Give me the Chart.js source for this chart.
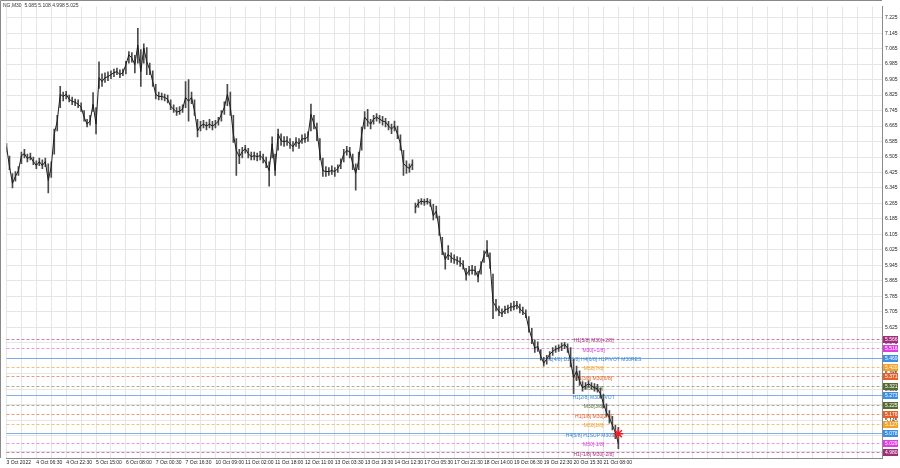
<!DOCTYPE html>
<html>
<head>
<meta charset="utf-8">
<title>NG,M30</title>
<script src="https://cdn.jsdelivr.net/npm/chart.js@4/dist/chart.umd.min.js"></script>
<style>
  html, body { margin: 0; padding: 0; background: #fff; }
  #c { display: block; }
</style>
</head>
<body>
<canvas id="c" width="900" height="468"></canvas>
<script>
/* ---------- dados (amostra a cada ~3 barras M30) ---------- */
const highs = [
  6.575, 6.510, 6.420, 6.430, 6.455, 6.530, 6.545, 6.520, 6.525, 6.505,
  6.485, 6.500, 6.490, 6.500, 6.470, 6.480, 6.650, 6.720, 6.870, 6.840,
  6.845, 6.825, 6.815, 6.805, 6.800, 6.785, 6.745, 6.700, 6.720, 6.838,
  6.760, 6.997, 6.935, 6.940, 6.945, 6.950, 6.960, 6.965, 6.955, 6.960,
  7.000, 7.050, 7.045, 7.030, 7.170, 7.060, 7.090, 7.070, 6.990, 6.950,
  6.880, 6.840, 6.835, 6.830, 6.825, 6.800, 6.775, 6.760, 6.765, 6.775,
  6.895, 6.905, 6.840, 6.800, 6.700, 6.690, 6.695, 6.685, 6.700, 6.690,
  6.695, 6.710, 6.745, 6.790, 6.880, 6.840, 6.720, 6.600, 6.545, 6.555,
  6.565, 6.550, 6.530, 6.530, 6.525, 6.535, 6.520, 6.505, 6.480, 6.609,
  6.520, 6.650, 6.625, 6.610, 6.610, 6.600, 6.585, 6.605, 6.600, 6.620,
  6.625, 6.635, 6.778, 6.720, 6.680, 6.600, 6.500, 6.455, 6.450, 6.460,
  6.450, 6.465, 6.495, 6.545, 6.560, 6.555, 6.520, 6.470, 6.530, 6.660,
  6.740, 6.752, 6.700, 6.720, 6.730, 6.720, 6.715, 6.705, 6.690, 6.675,
  6.691, 6.665, 6.620, 6.540, 6.485, 6.470, 6.490, 6.267, 6.285, 6.290,
  6.288, 6.292, 6.285, 6.260, 6.252, 6.200, 6.090, 6.010, 6.048, 6.010,
  6.000, 5.990, 5.985, 5.970, 5.930, 5.940, 5.945, 5.940, 5.915, 5.965,
  6.020, 6.073, 6.010, 5.900, 5.770, 5.735, 5.720, 5.735, 5.740, 5.750,
  5.760, 5.760, 5.745, 5.730, 5.715, 5.680, 5.620, 5.560, 5.550, 5.510,
  5.470, 5.480, 5.500, 5.520, 5.530, 5.535, 5.545, 5.548, 5.540, 5.520,
  5.460, 5.425, 5.400, 5.345, 5.340, 5.350, 5.340, 5.335, 5.330, 5.310,
  5.280, 5.230, 5.195, 5.165, 5.120, 5.108
];
const lows = [
  6.530, 6.440, 6.345, 6.380, 6.410, 6.470, 6.500, 6.480, 6.490, 6.465,
  6.445, 6.460, 6.445, 6.455, 6.320, 6.400, 6.520, 6.640, 6.760, 6.795,
  6.805, 6.790, 6.775, 6.770, 6.760, 6.740, 6.690, 6.660, 6.670, 6.740,
  6.624, 6.860, 6.870, 6.890, 6.900, 6.910, 6.920, 6.930, 6.915, 6.925,
  6.935, 6.990, 6.995, 6.940, 6.990, 6.870, 6.990, 6.931, 6.930, 6.870,
  6.805, 6.800, 6.800, 6.795, 6.785, 6.750, 6.735, 6.720, 6.725, 6.735,
  6.760, 6.690, 6.780, 6.720, 6.609, 6.640, 6.655, 6.645, 6.655, 6.645,
  6.655, 6.670, 6.690, 6.725, 6.770, 6.720, 6.580, 6.410, 6.470, 6.500,
  6.525, 6.500, 6.490, 6.490, 6.485, 6.490, 6.475, 6.450, 6.354, 6.500,
  6.410, 6.540, 6.565, 6.560, 6.565, 6.550, 6.535, 6.560, 6.550, 6.575,
  6.580, 6.585, 6.640, 6.650, 6.590, 6.490, 6.405, 6.405, 6.410, 6.415,
  6.405, 6.425, 6.445, 6.480, 6.515, 6.500, 6.440, 6.334, 6.440, 6.540,
  6.650, 6.665, 6.650, 6.675, 6.690, 6.680, 6.670, 6.660, 6.645, 6.625,
  6.640, 6.600, 6.540, 6.410, 6.420, 6.425, 6.440, 6.216, 6.245, 6.260,
  6.255, 6.262, 6.250, 6.180, 6.190, 6.100, 6.000, 5.925, 5.975, 5.960,
  5.955, 5.950, 5.940, 5.925, 5.869, 5.895, 5.900, 5.895, 5.860, 5.900,
  5.960, 5.990, 5.930, 5.670, 5.710, 5.685, 5.680, 5.695, 5.700, 5.710,
  5.715, 5.720, 5.700, 5.690, 5.675, 5.600, 5.540, 5.495, 5.500, 5.455,
  5.425, 5.435, 5.460, 5.480, 5.495, 5.500, 5.505, 5.515, 5.495, 5.420,
  5.282, 5.350, 5.325, 5.295, 5.305, 5.315, 5.305, 5.295, 5.290, 5.260,
  5.210, 5.165, 5.130, 5.095, 5.050, 4.998
];
const closes = [
  6.558, 6.456, 6.369, 6.405, 6.435, 6.512, 6.522, 6.497, 6.507, 6.481,
  6.461, 6.481, 6.461, 6.481, 6.384, 6.456, 6.624, 6.691, 6.829, 6.818,
  6.829, 6.803, 6.793, 6.788, 6.778, 6.762, 6.711, 6.675, 6.691, 6.778,
  6.675, 6.915, 6.895, 6.915, 6.920, 6.931, 6.941, 6.946, 6.931, 6.941,
  6.982, 7.033, 7.017, 6.982, 7.084, 6.946, 7.068, 6.997, 6.956, 6.895,
  6.829, 6.818, 6.818, 6.813, 6.803, 6.767, 6.752, 6.737, 6.742, 6.752,
  6.813, 6.793, 6.813, 6.742, 6.640, 6.665, 6.675, 6.665, 6.675, 6.665,
  6.675, 6.691, 6.726, 6.762, 6.829, 6.762, 6.624, 6.538, 6.507, 6.533,
  6.548, 6.522, 6.507, 6.512, 6.507, 6.512, 6.497, 6.471, 6.435, 6.573,
  6.435, 6.624, 6.589, 6.584, 6.589, 6.573, 6.558, 6.584, 6.573, 6.599,
  6.599, 6.609, 6.726, 6.675, 6.640, 6.522, 6.435, 6.430, 6.430, 6.435,
  6.430, 6.446, 6.471, 6.522, 6.538, 6.533, 6.471, 6.420, 6.487, 6.624,
  6.711, 6.691, 6.675, 6.701, 6.711, 6.701, 6.691, 6.686, 6.665, 6.650,
  6.665, 6.624, 6.573, 6.471, 6.456, 6.446, 6.471, 6.242, 6.267, 6.277,
  6.272, 6.277, 6.267, 6.201, 6.226, 6.129, 6.027, 5.976, 6.002, 5.986,
  5.976, 5.971, 5.961, 5.945, 5.894, 5.920, 5.920, 5.920, 5.884, 5.945,
  5.997, 6.027, 5.961, 5.757, 5.731, 5.706, 5.695, 5.716, 5.721, 5.731,
  5.731, 5.741, 5.721, 5.706, 5.690, 5.619, 5.568, 5.517, 5.527, 5.476,
  5.440, 5.461, 5.486, 5.501, 5.512, 5.517, 5.527, 5.537, 5.517, 5.450,
  5.364, 5.399, 5.348, 5.313, 5.323, 5.333, 5.323, 5.313, 5.307, 5.282,
  5.231, 5.185, 5.159, 5.119, 5.083, 5.025
];
// gap de preço depois desta amostra (sem ligação)
const gapAfter = [136];

const timeLabels = [
  "3 Oct 2022", "4 Oct 06:30", "4 Oct 22:30", "5 Oct 15:00", "6 Oct 08:00",
  "7 Oct 00:30", "7 Oct 16:30", "10 Oct 09:00", "11 Oct 02:00", "11 Oct 18:00",
  "12 Oct 11:00", "13 Oct 03:30", "13 Oct 19:30", "14 Oct 12:30", "17 Oct 05:30",
  "17 Oct 21:30", "18 Oct 14:00", "19 Oct 06:30", "19 Oct 22:30", "20 Oct 15:30",
  "21 Oct 08:00"
];
const priceTicks = [
  4.985, 5.065, 5.145, 5.225, 5.305, 5.385, 5.465, 5.545, 5.625, 5.705,
  5.785, 5.865, 5.945, 6.025, 6.105, 6.185, 6.265, 6.345, 6.425, 6.505,
  6.585, 6.665, 6.745, 6.825, 6.905, 6.985, 7.065, 7.145, 7.225
];

// níveis Murrey
const levelPrices = [5.566, 5.516, 5.469, 5.420, 5.371, 5.321, 5.273, 5.225, 5.176, 5.127, 5.078, 5.029, 4.980];
const levelNames = [
  "H1[5/8] M30[+2/8]", "M30[+1/8]", "H1[4/8] D1[3/8] H4[6/8] H1PIVOT M30RES",
  "M30[7/8]", "H1[3/8] M30[6/8]", "M30[5/8]", "H1[2/8] M30PIVOT", "M30[3/8]",
  "H1[1/8] M30[2/8]", "M30[1/8]", "H4[5/8] H1SUP M30SUP", "M30[-1/8]", "H1[-1/8] M30[-2/8]"
];
const levelKind = ["p2", "p1", "pv", "o", "r", "g", "pv", "g", "r", "o", "pv", "p1", "p2"];

const header = "NG,M30  5.085 5.108 4.998 5.025";
const markerPrice = 5.075;

/* ---------- estilo ---------- */
const KIND = {
  p2: { box: "#a12c7b", line: "rgba(176,60,140,0.65)", text: "#a8307f", dash: [3, 2] },
  p1: { box: "#dd3ee0", line: "rgba(220,80,220,0.6)",  text: "#d23cd4", dash: [3, 2] },
  pv: { box: "#3d8fe3", line: "rgba(90,150,225,0.75)", text: "#3a86d6", dash: [] },
  o:  { box: "#f2a12c", line: "rgba(240,160,50,0.65)", text: "#ee9a22", dash: [3, 2] },
  r:  { box: "#e3612b", line: "rgba(225,100,50,0.65)", text: "#dd5c26", dash: [3, 2] },
  g:  { box: "#566b34", line: "rgba(110,125,90,0.6)",  text: "#5a6c3a", dash: [3, 2] }
};
const FONT = '"Liberation Sans", Arial, sans-serif';
const GRID = "#e6e6e6";

const idx = closes.map((_, i) => i);
const X_MAX = 880 / 3;       // ~3 px por amostra
const TEXT_AT = 196.7;       // coluna onde o indicador escreve os nomes

/* ---------- plugin dos níveis / moldura ---------- */
const levelsPlugin = {
  id: "levels",
  beforeDatasetsDraw(chart) {
    const { ctx, chartArea: a, scales: { x, y } } = chart;
    ctx.save();
    ctx.lineWidth = 1;
    levelPrices.forEach((p, i) => {
      const k = KIND[levelKind[i]];
      const py = Math.round(y.getPixelForValue(p)) + 0.5;
      ctx.strokeStyle = k.line;
      ctx.setLineDash(k.dash);
      ctx.beginPath();
      ctx.moveTo(a.left, py);
      ctx.lineTo(a.right, py);
      ctx.stroke();
    });
    ctx.setLineDash([]);
    ctx.font = "5px " + FONT;
    ctx.textAlign = "center";
    ctx.textBaseline = "middle";
    const cx = x.getPixelForValue(TEXT_AT);
    levelPrices.forEach((p, i) => {
      ctx.fillStyle = KIND[levelKind[i]].text;
      ctx.fillText(levelNames[i], cx, y.getPixelForValue(p) + 2);
    });
    ctx.restore();
  },
  afterDraw(chart) {
    const { ctx, chartArea: a, scales: { y } } = chart;
    ctx.save();
    // caixas de preço no eixo
    ctx.font = "5px " + FONT;
    ctx.textAlign = "left";
    ctx.textBaseline = "middle";
    levelPrices.forEach((p, i) => {
      const py = Math.round(y.getPixelForValue(p));
      ctx.fillStyle = KIND[levelKind[i]].box;
      ctx.fillRect(a.right + 1, py - 3, 15, 7);
      ctx.fillStyle = "#fff";
      ctx.fillText(p.toFixed(3), a.right + 3, py + 0.5);
    });
    // moldura
    ctx.strokeStyle = "#8a8a8a";
    ctx.beginPath();
    ctx.moveTo(0.5, a.bottom);
    ctx.lineTo(0.5, 0.5);
    ctx.lineTo(a.right, 0.5);
    ctx.stroke();
    // cabeçalho
    ctx.fillStyle = "#333";
    ctx.textBaseline = "middle";
    ctx.fillText(header, 3, 6);
    ctx.restore();
  }
};

/* ---------- gráfico ---------- */
new Chart(document.getElementById("c"), {
  type: "line",
  data: {
    datasets: [
      {
        type: "bar",
        data: idx.map(i => ({ x: i, y: [lows[i], highs[i]] })),
        backgroundColor: "#4a4a4a",
        barThickness: 1,
        grouped: false,
        order: 2
      },
      {
        type: "line",
        data: idx.map(i => ({ x: i, y: closes[i] })),
        borderColor: "#1e1e1e",
        borderWidth: 1,
        pointRadius: 0,
        tension: 0,
        segment: {
          borderColor: c => (gapAfter.includes(c.p0DataIndex) ? "rgba(0,0,0,0)" : undefined)
        },
        order: 1
      },
      {
        type: "line",
        data: [{ x: idx[idx.length - 1], y: markerPrice }],
        showLine: false,
        pointStyle: "star",
        pointRadius: 5,
        borderColor: "#e8202a",
        borderWidth: 1.5,
        order: 0
      }
    ]
  },
  options: {
    responsive: false,
    animation: false,
    devicePixelRatio: 1,
    layout: { padding: { top: 1, left: 2, right: 0, bottom: 0 } },
    plugins: { legend: { display: false }, tooltip: { enabled: false } },
    scales: {
      x: {
        type: "linear",
        min: 0,
        max: X_MAX,
        offset: false,
        grid: { color: GRID, offset: false, drawTicks: false },
        border: { display: true, color: "#8a8a8a" },
        ticks: {
          stepSize: 5,
          includeBounds: false,
          autoSkip: false,
          maxRotation: 0,
          align: "start",
          padding: 2,
          color: "#222",
          font: { family: FONT, size: 5 },
          callback: v => (v % 10 === 0 ? (timeLabels[v / 10] || "") : "")
        },
        afterFit: s => { s.height = 10; }
      },
      y: {
        type: "linear",
        position: "right",
        min: 4.9499,
        max: 7.2827,
        grid: { color: GRID, drawTicks: false },
        border: { display: true, color: "#8a8a8a" },
        afterBuildTicks: s => { s.ticks = priceTicks.map(v => ({ value: v })); },
        ticks: {
          padding: 3,
          color: "#222",
          font: { family: FONT, size: 5 },
          callback: v => v.toFixed(3)
        },
        afterFit: s => { s.width = 18; }
      }
    }
  },
  plugins: [levelsPlugin]
});
</script>
</body>
</html>
